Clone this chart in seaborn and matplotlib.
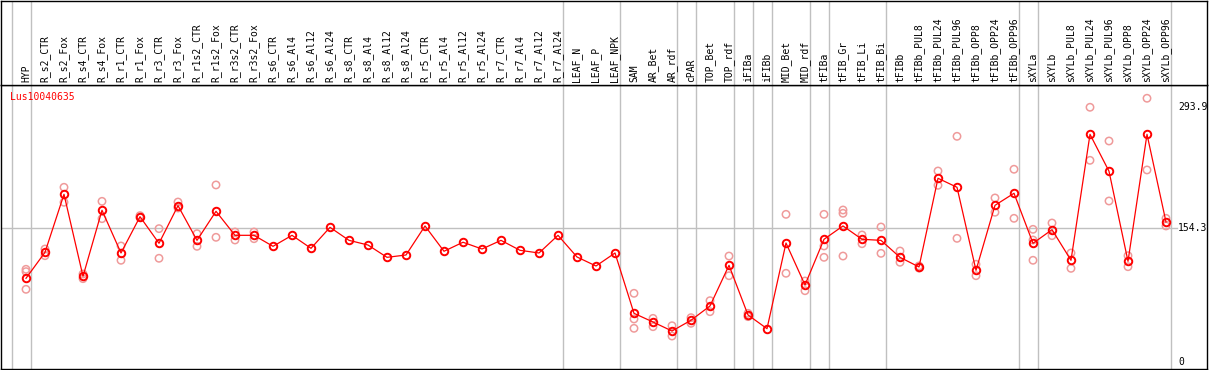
import matplotlib
matplotlib.use("Agg")
import matplotlib.pyplot as plt
import seaborn as sns
import pandas as pd
import numpy as np

categories = ["HYP", "R_s2_CTR", "R_s2_Fox", "R_s4_CTR", "R_s4_Fox", "R_r1_CTR", "R_r1_Fox",
              "R_r3_CTR", "R_r3_Fox", "R_r1s2_CTR", "R_r1s2_Fox", "R_r3s2_CTR", "R_r3s2_Fox",
              "R_s6_CTR", "R_s6_Al4", "R_s6_Al12", "R_s6_Al24", "R_s8_CTR", "R_s8_Al4",
              "R_s8_Al12", "R_s8_Al24", "R_r5_CTR", "R_r5_Al4", "R_r5_Al12", "R_r5_Al24",
              "R_r7_CTR", "R_r7_Al4", "R_r7_Al12", "R_r7_Al24", "LEAF_N", "LEAF_P", "LEAF_NPK",
              "SAM", "AR_Bet", "AR_rdf", "cPAR", "TOP_Bet", "TOP_rdf", "iFIBa", "iFIBb",
              "MID_Bet", "MID_rdf", "tFIBa", "tFIB_Gr", "tFIB_Li", "tFIB_Bi", "tFIBb",
              "tFIBb_PUL8", "tFIBb_PUL24", "tFIBb_PUL96", "tFIBb_OPP8", "tFIBb_OPP24",
              "tFIBb_OPP96", "sXYLa", "sXYLb", "sXYLb_PUL8", "sXYLb_PUL24", "sXYLb_PUL96",
              "sXYLb_OPP8", "sXYLb_OPP24", "sXYLb_OPP96"]

mean_values = [96.2, 126.2, 193.1, 98.5, 174.7, 125.4, 167.3, 136.6, 180.0, 140.0, 173.5,
               145.8, 145.8, 133.1, 145.8, 130.8, 155.0, 140.0, 134.6, 120.4, 123.1, 156.6,
               127.4, 137.8, 130.0, 140.0, 128.5, 125.4, 145.8, 120.8, 110.4, 125.4,
               55.8, 45.8, 35.4, 47.8, 64.3, 111.2, 53.9, 38.1, 136.9, 88.5, 141.2, 156.6,
               141.2, 140.0, 120.4, 109.3, 211.6, 201.2, 105.4, 180.4, 194.3, 136.6, 152.3,
               117.0, 262.3, 219.7, 115.8, 262.3, 161.2]

replicates = [[106.6, 103.9, 83.5], [130.0, 122.3], [201.2, 183.9], [101.2, 95.8],
              [185.0, 165.0], [133.5, 117.0], [168.5, 166.2], [153.5, 119.3], [184.2, 177.3],
              [147.7, 133.1], [203.9, 143.5], [149.6, 140.4], [149.6, 141.9],
              [], [], [], [], [], [], [], [], [], [], [], [], [], [], [], [], [], [], [],
              [78.9, 49.3, 38.5], [50.0, 40.4], [41.5, 29.6], [50.8, 44.3], [70.4, 57.7],
              [121.9, 99.2], [55.8, 52.0], [], [170.0, 102.0], [93.1, 81.9],
              [170.0, 133.5, 120.4], [175.0, 171.2, 121.9], [146.2, 136.1], [155.4, 125.0],
              [127.7, 114.7], [110.5, 108.0], [220.0, 203.5], [260.0, 142.3], [112.4, 99.2],
              [188.9, 172.4], [222.0, 165.4], [152.7, 140.4, 117.0], [160.0, 145.4],
              [125.4, 107.7], [293.5, 232.3], [254.6, 185.4], [122.3, 109.6], [303.9, 221.2],
              [165.4, 156.6]]

group_ends = [-1, 0, 28, 31, 34, 35, 37, 38, 39, 41, 42, 45, 52, 53, 60]
axis_labels = ["293.9", "154.3", "0"]
axis_values = [293.9, 154.3, 0.0]

idx = np.arange(len(categories))
mean_df = pd.DataFrame({"pos": idx, "value": mean_values})
rep_pos, rep_val = [], []
for i, reps in enumerate(replicates):
    for v in reps:
        rep_pos.append(i)
        rep_val.append(v)
rep_df = pd.DataFrame({"pos": rep_pos, "value": rep_val})

W, H = 1209, 370
fig = plt.figure(figsize=(W / 100, H / 100), dpi=100)
mono = "DejaVu Sans Mono"

ax = fig.add_axes([1 / W, 1 / H, 1206 / W, 284 / H])
hax = fig.add_axes([1 / W, 285 / H, 1206 / W, 84 / H], sharex=ax)

xmin, xmax = (1 - 26) / 19, (1207 - 26) / 19
ax.set_xlim(xmin, xmax)
ax.set_ylim(-8.42, 319.2)
hax.set_ylim(0, 1)

grid_c = "#c0c0c0"
for g in group_ends:
    xs = g + 4.6 / 19
    ax.axvline(xs, color=grid_c, lw=1.0, zorder=0)
    hax.axvline(xs, color=grid_c, lw=1.0, zorder=0)

xl_end = (1177 - 26) / 19
ax.plot([xmin, xl_end], [154.3, 154.3], color=grid_c, lw=1.0, zorder=0)

sns.scatterplot(data=rep_df, x="pos", y="value", ax=ax, marker="o", s=28,
                facecolors="none", edgecolor="#ef9a9a", linewidth=1.1, zorder=2, legend=False)
sns.lineplot(data=mean_df, x="pos", y="value", ax=ax, color="#ff0000", lw=0.9,
             marker="o", markersize=5.4, markerfacecolor="none", markeredgecolor="#ff0000",
             markeredgewidth=1.4, zorder=3, legend=False)

lab_x = (1178 - 26) / 19
for t, v in zip(axis_labels, axis_values):
    ax.text(lab_x, v, t, ha="left", va="center", fontsize=7, family=mono, color="black")

ax.text(9 / 1206, (369 - 92) / 284, "Lus10040635", transform=ax.transAxes, ha="left",
        va="top", fontsize=7, family=mono, color="#ff0000")

for i, c in enumerate(categories):
    hax.text(i, 3 / 84, c, rotation=90, ha="center", va="bottom", fontsize=7, family=mono,
             color="black")

for a in (ax, hax):
    a.set_xlabel("")
    a.set_ylabel("")
    a.set_xticks([])
    a.set_yticks([])
    for s in a.spines.values():
        s.set_color("black")
        s.set_linewidth(1.0)

fig.savefig("out.png", dpi=100)
